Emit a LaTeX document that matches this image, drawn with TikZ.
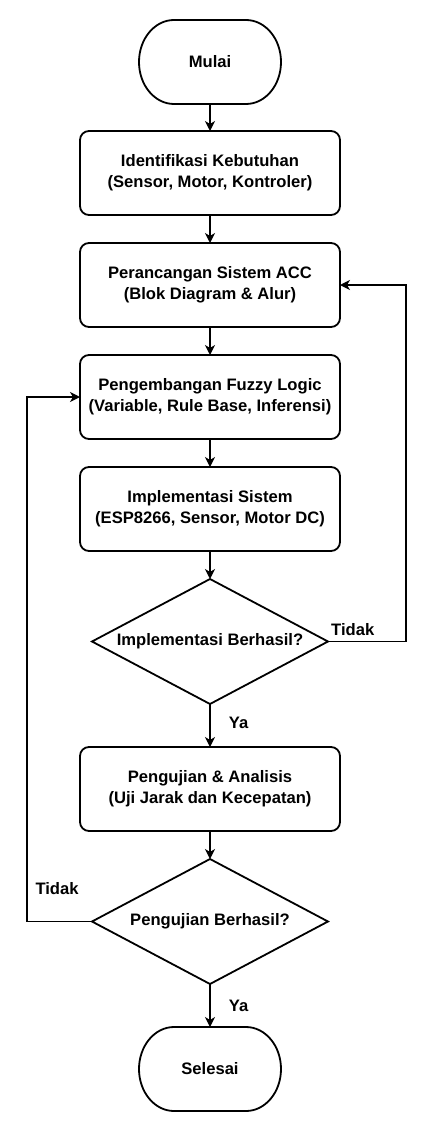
\documentclass[tikz,border=0pt]{standalone}
\usepackage{fontspec}
\setmainfont{Liberation Sans}
\usetikzlibrary{arrows.meta,positioning,shapes.geometric,calc}

\begin{document}
\begin{tikzpicture}[node distance=28pt,
    every node/.style={font=\fontsize{16.6}{21}\selectfont\bfseries},
    proses/.style={draw, line width=1.8pt, outer sep=0pt, rounded corners=9pt, minimum width=260pt, minimum height=84pt, align=center},
    terminal/.style={outer sep=0pt, minimum width=142pt, minimum height=84pt},
    keputusan/.style={draw, line width=1.8pt, outer sep=0pt, diamond, shape aspect=1.89, inner sep=0pt, minimum width=236pt, minimum height=125pt},
    panah/.style={line width=1.3pt, -{Stealth[length=10pt,width=10pt,inset=3pt]}}]
    \useasboundingbox (0,0) rectangle (428pt,-1134pt);
    \node (mulai) [terminal] at (210pt,-62pt) {Mulai};
    \node (identifikasi) [proses, below=27pt of mulai] {Identifikasi Kebutuhan\\(Sensor, Motor, Kontroler)};
    \node (perancangan) [proses, below=of identifikasi] {Perancangan Sistem ACC\\(Blok Diagram \& Alur)};
    \node (fuzzy) [proses, below=of perancangan] {Pengembangan Fuzzy Logic\\(Variable, Rule Base, Inferensi)};
    \node (implementasi) [proses, below=of fuzzy] {Implementasi Sistem\\(ESP8266, Sensor, Motor DC)};
    \node (uji1) [keputusan, below=of implementasi] {Implementasi Berhasil?};
    \node (pengujian) [proses, below=43pt of uji1] {Pengujian \& Analisis\\(Uji Jarak dan Kecepatan)};
    \node (uji2) [keputusan, below=of pengujian] {Pengujian Berhasil?};
    \node (selesai) [terminal, below=43pt of uji2] {Selesai};
    % outline of the start/end shapes
    \foreach \t in {mulai,selesai}
      \draw[line width=1.8pt] ($(\t.north west)+(35pt,0)$) -- ($(\t.north east)+(-35pt,0)$)
        arc[start angle=90, end angle=-90, x radius=35pt, y radius=42pt]
        -- ($(\t.south west)+(35pt,0)$)
        arc[start angle=270, end angle=90, x radius=35pt, y radius=42pt] -- cycle;
    \coordinate (kanan) at ($(perancangan.east)+(66pt,0)$);
    \coordinate (kiri) at ($(fuzzy.west)+(-53pt,0)$);
    \draw[panah] (mulai) -- (identifikasi);
    \draw[panah] (identifikasi) -- (perancangan);
    \draw[panah] (perancangan) -- (fuzzy);
    \draw[panah] (fuzzy) -- (implementasi);
    \draw[panah] (implementasi) -- (uji1);
    \draw[panah] (uji1) -- node[pos=0.45, right=15pt] (ya1) {Ya} (pengujian);
    \draw[panah] (pengujian) -- (uji2);
    \draw[panah] (uji2) -- node[pos=0.5, right=15pt] (ya2) {Ya} (selesai);
    \draw[panah] (uji1.east) -| (kanan) -- (perancangan.east);
    \draw[panah] (uji2.west) -| (kiri) -- (fuzzy.west);
    \node (tidak1) [anchor=south west, inner sep=2pt, xshift=1pt, yshift=4pt] at (uji1.east) {Tidak};
    \node (tidak2) [anchor=base west] at ($(uji2.west -| kiri)+(5pt,27pt)$) {Tidak};
  \end{tikzpicture}
\end{document}
